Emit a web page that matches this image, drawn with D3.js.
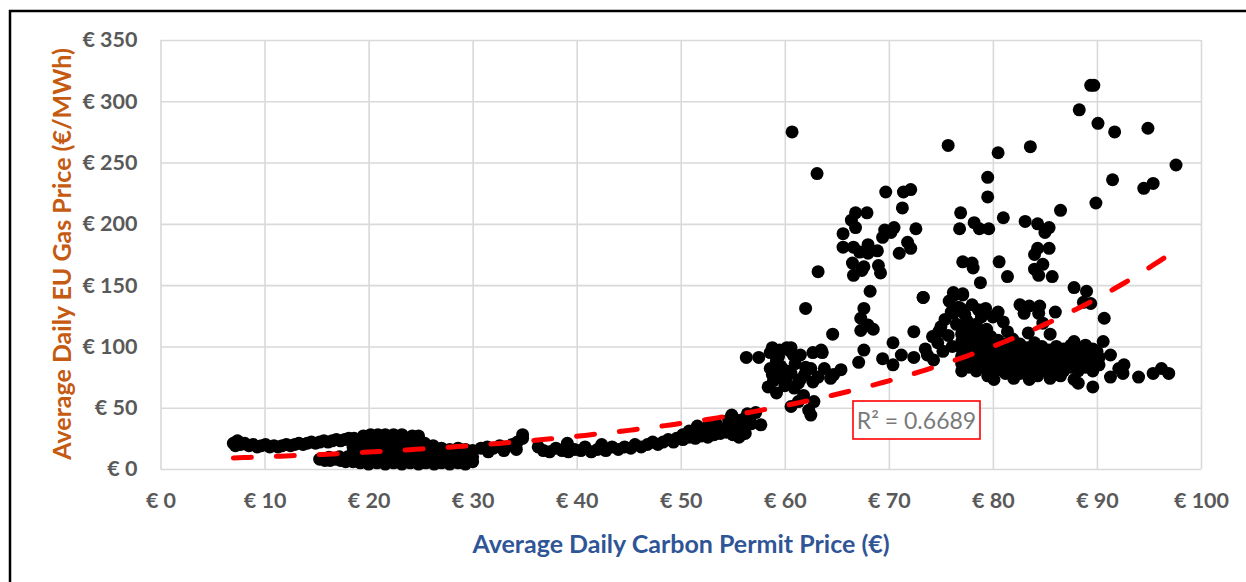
<!DOCTYPE html>
<html>
<head>
<meta charset="utf-8">
<script src="https://cdn.jsdelivr.net/npm/d3@7"></script>
<style>
  body { margin: 0; background: #fff; }
  svg { display: block; }
  text { font-family: Lato, "Open Sans", sans-serif; }
</style>
</head>
<body>
<svg id="chart"></svg>
<script>
// [carbon permit price €, gas price €/MWh]
const lowUpperBand = [
  [7.0,21],[7.2,19],[7.4,23],[7.7,20],[8.1,21],[8.5,19],[8.9,20],[9.3,18],[9.7,19],[10.1,20],
  [10.5,18],[10.9,19],[11.3,18],[11.7,19],[12.1,20],[12.5,19],[12.9,20],[13.3,21],[13.7,20],[14.1,21],
  [14.5,22],[14.9,21],[15.3,22],[15.7,23],[16.1,22],[16.5,23],[16.9,24],[17.3,23],[17.7,24],[18.1,25]
];
const lowLowerBand = [
  [15.3,8],[15.8,7],[16.3,7],[16.8,8],[17.3,7],[17.8,6],[16.2,9.5],[17.2,10],[18,10]
];
const lowBlob = [
  [18.5,6],[18.5,10],[18.5,14],[18.5,18],[18.5,22],[18.6,25],
  [19.2,5],[19.2,9],[19.2,13],[19.2,17],[19.2,21],[19.3,25],[19.5,27],
  [20,4],[20,8],[20,12],[20,16],[20,20],[20,24],[20.2,28],
  [20.8,5],[20.8,9],[20.8,13],[20.8,17],[20.8,21],[20.8,25],[20.9,28],
  [21.6,4],[21.6,8],[21.6,12],[21.6,16],[21.6,20],[21.6,24],[21.6,28],
  [22.4,5],[22.4,9],[22.4,13],[22.4,17],[22.4,21],[22.4,25],[22.4,28],
  [23.2,4],[23.2,8],[23.2,12],[23.2,16],[23.2,20],[23.2,24],[23.2,28],
  [24,5],[24,9],[24,13],[24,17],[24,21],[24,25],[24.2,27],
  [24.8,4],[24.8,8],[24.8,12],[24.8,16],[24.8,20],[24.8,24],[24.8,27],
  [25.5,5],[25.5,9],[25.5,13],[25.5,17],[25.4,21],
  [26.3,4],[26.3,8],[26.3,12],[26.3,16],[26.2,19],
  [27,5],[27,9],[27,13],[27,17],
  [27.8,4],[27.8,8],[27.8,12],[27.8,16],
  [28.6,5],[28.6,9],[28.6,13],[28.6,17],
  [29.3,4],[29.3,8],[29.3,12],[29.3,16],
  [30,6],[30,10],[30,15]
];
const riseBand = [
  [30.8,17],[31.4,18],[31.5,14],[32,17],[32.6,19],[33,15],[33.2,18],[33.8,20],[34.2,16],[34.3,22],[34.8,25],[34.8,28],
  [36.3,18],[36.8,15],[37.4,14],[38,17],[38.6,15],[39.1,21],[39.2,14],[39.8,16],[40.4,15],[40.8,18],
  [41.4,14],[42,16],[42.4,20],[42.8,15],[43.4,18],[44,16],[44.6,18],[45.2,17],[45.6,20],[46.2,18],
  [46.8,20],[47.3,22],[47.8,20],[48.3,22],[48.8,24],[49.3,22],
  [49.6,25],[50.2,24],[50.2,28],[50.8,26],[50.8,31],[51.4,25],[51.4,29],[51.6,35],[52,27],[52,31],
  [52.6,26],[52.6,30],[52.6,35],[53.2,28],[53.2,32],[53.4,37],[53.8,29],[53.8,33],[54.4,30],[54.4,34],
  [54.6,40],[54.9,44],[55,28],[55,33],[55,38],[55.6,26],[55.6,31],[55.8,40],[56.2,29],[56.2,35],
  [56.4,45],[56.8,37],[57.7,36],[57.2,46],[56,32]
];
const lateJump = [
  [56.3,91],[57.5,91],[58.6,95],[58.8,99],[59.5,97],[60.2,99],[60.6,99],[59.4,92],[59.2,88],[58.6,82],
  [59.6,84],[60.2,80],[58.4,67],[58.9,72],[59.6,75],[60.6,78],[60.1,73],[60.9,66],[61.3,70],[61.5,73],
  [60.4,97],[60.8,93],[61.5,93],[62.7,95],[63.5,97],[62,83],[62.5,82],[63.8,82],[65.4,81],[64.7,77],
  [62.7,71],[60.6,51],[62.5,44],[62.8,55],[61.3,55],[62.3,48],[61.8,60],[59.2,62],[60,68],[58.8,77],
  [61,86],[61.9,77],[63.2,75],[63.6,95],[64.4,74]
];
const spikeLeft = [
  [60.7,275],[63.1,241],[63.2,161],[62,131],[64.6,110],
  [69.7,226],[71.4,226],[72.1,228],[71.3,213],
  [66.8,209],[67.9,209],[66.4,203],[66.8,197],[65.6,192],
  [69.4,189],[70.5,197],[70.2,193],[72.6,196],[69.6,195],
  [65.6,181],[66.6,181],[68,183],[68.9,178],[68,176],[67.2,177],
  [71.8,185],[72.1,180],[71,176],
  [66.5,168],[67.6,165],[69,166],[66.6,158],[69.2,160],[67.4,162],
  [68.2,145],[73.3,140],[67.6,131],[67.3,123],[68,117.5],[68.5,114],[67.3,113],[70.4,103],[72.4,112],
  [67.6,97],[67.1,87],[69.4,90],[70.4,85],[71.2,93],[72.4,91],[73.7,93]
];
const midCluster = [
  [74.7,103],[75,116],[75.7,109],[76.2,127],[76.2,144],[77.1,142],[76.7,132],[78.6,130],[76,128],[76.9,131],
  [77.5,121],[78.2,116],[78.9,124],[79.4,114],[77.1,113],[76.1,100],[75.2,96],[74.3,89],
  [73.5,98],[74.2,108],[75.4,122],[76.5,118],[77.3,126],[78,134],[79.3,131],[75.8,137],[74.8,112]
];
const denseCluster = [
  [77,80],[77,86],[77,92],[77,98],[77,104],[77,110],
  [77.7,83],[77.7,89],[77.7,95],[77.7,101],[77.7,107],[77.7,113],
  [78.4,80],[78.4,86],[78.4,92],[78.4,98],[78.4,104],[78.4,110],[78.4,118],
  [79.1,83],[79.1,89],[79.1,95],[79.1,101],[79.1,107],
  [79.8,78],[79.8,84],[79.8,90],[79.8,96],[79.8,102],[79.8,108],
  [80.5,81],[80.5,87],[80.5,93],[80.5,99],[80.5,105],
  [81.2,78],[81.2,84],[81.2,90],[81.2,96],[81.2,102],
  [81.9,81],[81.9,87],[81.9,93],[81.9,99],[81.9,106],
  [82.6,78],[82.6,84],[82.6,90],[82.6,96],[82.6,102],
  [83.3,81],[83.3,87],[83.3,93],[83.3,99],
  [84,79],[84,85],[84,91],[84,97],[84,103],
  [84.7,82],[84.7,88],[84.7,94],[84.7,100],
  [85.4,79],[85.4,85],[85.4,91],[85.4,97],
  [86.1,82],[86.1,88],[86.1,94],[86.1,100],
  [86.8,80],[86.8,86],[86.8,92],[86.8,98],
  [87.5,83],[87.5,89],[87.5,95],[87.5,101],
  [88.2,80],[88.2,86],[88.2,92],[88.2,98],
  [88.9,83],[88.9,89],[88.9,95],[88.9,101],
  [89.6,80],[89.6,86],[89.6,92],[89.6,98],
  [90.2,85],[90.2,91]
];
const upperRight = [
  [80,124],[81,120],[82.6,134],[83.5,133],[84.5,133],[83,127],[84.4,127],[86,128],[84.8,119],[80.5,128],
  [81.4,112],[83.4,111],[85.5,110],[87.8,104],[88.5,98],[90,96],[87.8,148],[89,145],[88.7,136],[89.4,135],
  [90.7,123],[90.6,104],[91.3,93],[92.6,85],[92.1,82]
];
const lowerTail = [
  [79.5,76],[80.1,73],[82,74],[83.5,73],[84.3,76],[87.8,73],[88.2,70],[89.6,67],[91.3,75],[92.5,78],
  [94,75],[95.4,78],[96.2,82],[96.9,78],[86.5,76],[85.5,74]
];
const highPoints = [
  [75.7,264],[80.5,258],[83.6,263],[79.5,238],[79.5,222],[76.9,209],[76.8,196],[78.2,201],[78.7,196],[79.6,196],
  [81,205],[83.1,202],[84.3,200],[85.4,197],[85,193],[86.5,211],[77.1,169],[78,168],[78.1,164],[78.8,152],
  [80.6,169],[81.4,157],[84.3,180],[85.4,180],[84,175],[84.8,167],[84,163],[84.4,158],[85.7,157],[89.4,313],
  [89.7,313],[88.3,293],[90.1,282],[91.7,275],[94.9,278],[97.6,248],[91.5,236],[94.5,229],[95.4,233],[89.9,217],
  [73.3,140],[76.3,142],[77.1,143]
];

const xTicks = [0, 10, 20, 30, 40, 50, 60, 70, 80, 90, 100];
const yTicks = [0, 50, 100, 150, 200, 250, 300, 350];

// Excel exponential trendline y = a * e^(b x)
const trendA = 7.14;
const trendB = 0.033;
const trendLabel = "R² = 0.6689";

const xTitle = "Average Daily Carbon Permit Price (€)";
const yTitle = "Average Daily EU Gas Price (€/MWh)";

const points = [
  ...lowUpperBand, ...lowLowerBand, ...lowBlob, ...riseBand, ...lateJump,
  ...spikeLeft, ...midCluster, ...denseCluster, ...upperRight, ...lowerTail, ...highPoints
];

const W = 1246, H = 582;
const plot = { left: 160.5, right: 1201, top: 40, bottom: 469 };

const svg = d3.select("#chart").attr("width", W).attr("height", H);

svg.append("rect")
  .attr("x", 10).attr("y", 11)
  .attr("width", 1400).attr("height", 800)
  .attr("fill", "#fff")
  .attr("stroke", "#000")
  .attr("stroke-width", 2.5);

const x = d3.scaleLinear().domain([0, 100]).range([plot.left, plot.right]);
const y = d3.scaleLinear().domain([0, 350]).range([plot.bottom, plot.top]);

const euro = (d) => "€ " + d;

const xAxis = svg.append("g")
  .attr("transform", `translate(0,${plot.bottom})`)
  .call(d3.axisBottom(x).tickValues(xTicks).tickFormat(euro)
    .tickSize(-(plot.bottom - plot.top)).tickSizeOuter(0).tickPadding(24));

const yAxis = svg.append("g")
  .attr("transform", `translate(${plot.left},0)`)
  .call(d3.axisLeft(y).tickValues(yTicks).tickFormat(euro)
    .tickSize(-(plot.right - plot.left)).tickSizeOuter(0).tickPadding(23));

for (const g of [xAxis, yAxis]) {
  g.select(".domain").remove();
  g.selectAll(".tick line").attr("stroke", "#d9d9d9").attr("stroke-width", 1.6);
  g.selectAll(".tick text")
    .attr("fill", "#595959")
    .attr("font-size", 21.5)
    .attr("font-weight", 700)
    .style("font-family", "Lato, 'Open Sans', sans-serif");
}

svg.append("g")
  .selectAll("circle")
  .data(points)
  .join("circle")
  .attr("cx", (d) => x(d[0]))
  .attr("cy", (d) => y(d[1]))
  .attr("r", 6.5)
  .attr("fill", "#000");

const xMin = d3.min(points, (d) => d[0]);
const xMax = d3.max(points, (d) => d[0]);
const trendPts = d3.range(xMin, xMax + 0.01, 0.5).map((v) => [v, trendA * Math.exp(trendB * v)]);

svg.append("path")
  .datum(trendPts)
  .attr("d", d3.line().x((d) => x(d[0])).y((d) => y(d[1])))
  .attr("fill", "none")
  .attr("stroke", "#ff0000")
  .attr("stroke-width", 5)
  .attr("stroke-linecap", "round")
  .attr("stroke-dasharray", "18,25");

const labelG = svg.append("g");
labelG.append("rect")
  .attr("x", 853).attr("y", 401)
  .attr("width", 127).attr("height", 38)
  .attr("fill", "#fff")
  .attr("stroke", "#ff0000")
  .attr("stroke-width", 1.6);
labelG.append("text")
  .attr("x", 916.5).attr("y", 428.5)
  .attr("text-anchor", "middle")
  .attr("font-size", 23)
  .attr("fill", "#7a7a7a")
  .text(trendLabel);

svg.append("text")
  .attr("x", 681)
  .attr("y", 553)
  .attr("text-anchor", "middle")
  .attr("font-size", 25)
  .attr("font-weight", 700)
  .attr("fill", "#2f5597")
  .text(xTitle);

svg.append("text")
  .attr("transform", "translate(71,254) rotate(-90)")
  .attr("text-anchor", "middle")
  .attr("font-size", 25)
  .attr("font-weight", 700)
  .attr("fill", "#c55a11")
  .text(yTitle);
</script>
</body>
</html>
